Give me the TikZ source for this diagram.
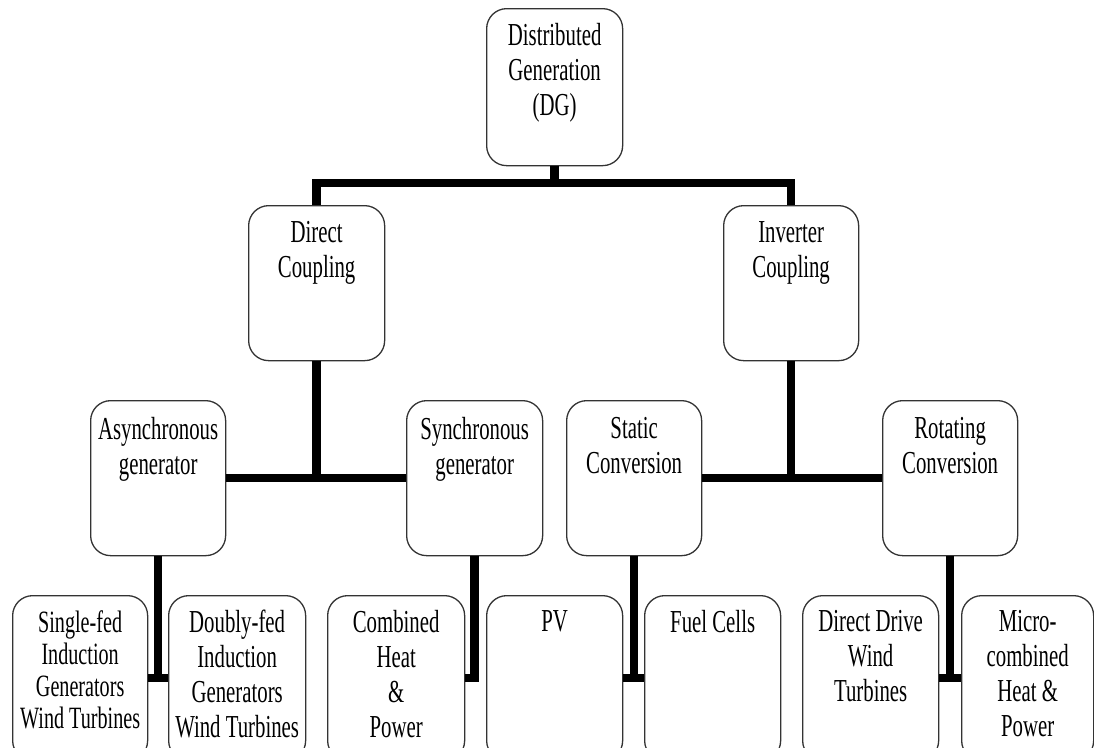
\documentclass[tikz,border=0pt]{standalone}
\usepackage{fontspec}
\newfontfamily\dgfont[FakeStretch=0.65]{Liberation Serif}
\begin{document}
\begin{tikzpicture}[x=1pt,y=-1pt,
  box/.style={draw=black!80, line width=1.3pt, rounded corners=20pt, minimum width=136pt, minimum height=155pt, inner sep=0pt, anchor=north west},
  lowbox/.style={box, minimum height=165pt},
  lbl/.style={anchor=north, inner sep=0pt, align=center, font=\dgfont\fontsize{32}{35}\selectfont},
  lbls/.style={lbl, font=\dgfont\fontsize{31}{32}\selectfont},
  conn/.style={line width=8.5pt, black}]
\useasboundingbox (0,0) rectangle (1094,747);
\clip (0,0) rectangle (1094,747);
% boxes
\node[box, minimum height=157pt] (dg) at (486,8) {};
\node[box] (dc) at (248,205) {};
\node[box, minimum width=135pt] (ic) at (723,205) {};
\node[box, minimum width=135pt] (as) at (90,400) {};
\node[box] (sy) at (406,400) {};
\node[box, minimum width=135pt] (st) at (566,400) {};
\node[box, minimum width=135pt] (ro) at (882,400) {};
\node[lowbox, minimum width=135pt] (b1) at (12,595) {};
\node[lowbox, minimum width=137pt] (b2) at (168,595) {};
\node[lowbox, minimum width=137pt] (b3) at (327,595) {};
\node[lowbox] (b4) at (486,595) {};
\node[lowbox] (b5) at (644,595) {};
\node[lowbox] (b6) at (802,595) {};
\node[lowbox, minimum width=132pt] (b7) at (961,595) {};
% labels
\node[lbl] (dg-t) at ([yshift=-15pt]dg.north) {Distributed\\Generation\\(DG)};
\node[lbl] (dc-t) at ([yshift=-16pt]dc.north) {Direct\\Coupling};
\node[lbl] (ic-t) at ([yshift=-16pt]ic.north) {Inverter\\Coupling};
\node[lbl] (as-t) at ([yshift=-17pt]as.north) {Asynchronous\\generator};
\node[lbl] (sy-t) at ([yshift=-17pt]sy.north) {Synchronous\\generator};
\node[lbl] (st-t) at ([yshift=-17pt]st.north) {Static\\Conversion};
\node[lbl] (ro-t) at ([yshift=-17pt]ro.north) {Rotating\\Conversion};
\node[lbls] (b1-t) at ([yshift=-15pt]b1.north) {Single-fed\\Induction\\Generators\\Wind Turbines};
\node[lbl] (b2-t) at ([yshift=-15pt]b2.north) {Doubly-fed\\Induction\\Generators\\Wind Turbines};
\node[lbl] (b3-t) at ([yshift=-15pt]b3.north) {Combined\\Heat\\\&\\Power};
\node[lbl] (b4-t) at ([yshift=-15pt]b4.north) {PV};
\node[lbl] (b5-t) at ([yshift=-15pt]b5.north) {Fuel Cells};
\node[lbl] (b6-t) at ([yshift=-15pt]b6.north) {Direct Drive\\Wind\\Turbines};
\node[lbl] (b7-t) at ([yshift=-15pt]b7.north) {Micro-\\combined\\Heat \&\\Power};
% connectors
\coordinate (j0) at (dg.south |- 0,183);
\draw[conn] (dg.south) -- (j0);
\draw[conn] (dc.north) |- (j0) -| (ic.north);
\draw[conn] (dc.south) -- (dc.south |- as.east);
\draw[conn] (as.east) -- (sy.west);
\draw[conn] (ic.south) -- (ic.south |- st.east);
\draw[conn] (st.east) -- (ro.west);
\draw[conn] (as.south) -- (as.south |- b1.east);
\draw[conn] (b1.east) -- (b2.west);
\draw[conn] (sy.south) -- (sy.south |- b3.east) -- (b3.east);
\draw[conn] (st.south) -- (st.south |- b4.east);
\draw[conn] (b4.east) -- (b5.west);
\draw[conn] (ro.south) -- (ro.south |- b6.east);
\draw[conn] (b6.east) -- (b7.west);
\end{tikzpicture}
\end{document}
